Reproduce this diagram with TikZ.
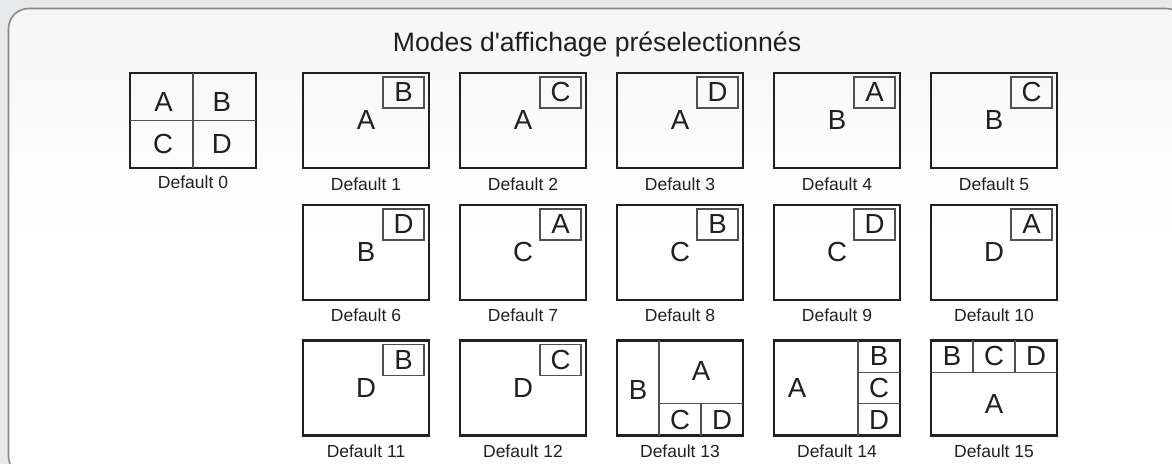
\documentclass[tikz,border=0pt]{standalone}
\usepackage{fontspec}
\setmainfont{Liberation Sans}
\usetikzlibrary{positioning,calc}
\definecolor{bgcolor}{RGB}{232,233,234}
\definecolor{panelcolor}{RGB}{138,138,140}
\definecolor{paneltop}{RGB}{246,246,247}
\definecolor{inkcolor}{RGB}{35,31,32}
\definecolor{insetcolor}{RGB}{80,80,80}

\begin{document}
\begin{tikzpicture}[x=0.5pt,y=-0.5pt,
    screen/.style={rectangle, draw=inkcolor, line width=1.45pt, minimum width=63pt, minimum height=47.5pt, inner sep=0pt, outer sep=0pt, font=\fontsize{13.8}{14}\selectfont, text=inkcolor},
    inset/.style={rectangle, draw=insetcolor, line width=0.55pt, minimum width=20.5pt, minimum height=15.5pt, inner sep=0pt, outer sep=0pt, font=\fontsize{13.8}{14}\selectfont, text=inkcolor},
    part/.style={inner sep=0pt, font=\fontsize{13.8}{14}\selectfont, text=inkcolor},
    split/.style={draw=insetcolor, line width=0.55pt},
    caption/.style={inner sep=0pt, outer sep=0pt, font=\fontsize{8.75}{9}\selectfont, text=inkcolor}]
    \useasboundingbox (0,0) rectangle (1172,464);
    % Bakgrund
    \fill[bgcolor] (0,0) rectangle (1172,464);
    \draw[panelcolor, line width=0.8pt, rounded corners=10pt, top color=paneltop, bottom color=white, middle color=white] (8.5,8.5) rectangle (1186,476);
    \node (title) [anchor=base, font=\fontsize{13.3}{14}\selectfont, text=inkcolor] at (597,52) {Modes d\textquotesingle affichage préselectionnés};

    % Skärmar
    \node (d0) [screen] at (193,120.5) {};
    \node (d1) [screen, right=23.5pt of d0] {A};
    \node (d2) [screen, right=15.5pt of d1] {A};
    \node (d3) [screen, right=15.5pt of d2] {A};
    \node (d4) [screen, right=15.5pt of d3] {B};
    \node (d5) [screen, right=15.5pt of d4] {B};
    \node (d6) [screen, below=18.5pt of d1] {B};
    \node (d7) [screen, right=15.5pt of d6] {C};
    \node (d8) [screen, right=15.5pt of d7] {C};
    \node (d9) [screen, right=15.5pt of d8] {C};
    \node (d10) [screen, right=15.5pt of d9] {D};
    \node (d11) [screen, below=20.25pt of d6] {D};
    \node (d12) [screen, right=15.5pt of d11] {D};
    \node (d13) [screen, right=15.5pt of d12] {};
    \node (d14) [screen, right=15.5pt of d13] {};
    \node (d15) [screen, right=15.5pt of d14] {};

    % Småbilder
    \node (i1) [inset, anchor=north east] at ([xshift=-2.5pt,yshift=-2pt]d1.north east) {B};
    \node (i2) [inset, anchor=north east] at ([xshift=-2.5pt,yshift=-2pt]d2.north east) {C};
    \node (i3) [inset, anchor=north east] at ([xshift=-2.5pt,yshift=-2pt]d3.north east) {D};
    \node (i4) [inset, anchor=north east] at ([xshift=-2.5pt,yshift=-2pt]d4.north east) {A};
    \node (i5) [inset, anchor=north east] at ([xshift=-2.5pt,yshift=-2pt]d5.north east) {C};
    \node (i6) [inset, anchor=north east] at ([xshift=-2.5pt,yshift=-2pt]d6.north east) {D};
    \node (i7) [inset, anchor=north east] at ([xshift=-2.5pt,yshift=-2pt]d7.north east) {A};
    \node (i8) [inset, anchor=north east] at ([xshift=-2.5pt,yshift=-2pt]d8.north east) {B};
    \node (i9) [inset, anchor=north east] at ([xshift=-2.5pt,yshift=-2pt]d9.north east) {D};
    \node (i10) [inset, anchor=north east] at ([xshift=-2.5pt,yshift=-2pt]d10.north east) {A};
    \node (i11) [inset, anchor=north east] at ([xshift=-2.5pt,yshift=-2pt]d11.north east) {B};
    \node (i12) [inset, anchor=north east] at ([xshift=-2.5pt,yshift=-2pt]d12.north east) {C};

    % Uppdelade skärmar
    \draw[split] (d0.north) -- (d0.south);
    \draw[split] (d0.west) -- (d0.east);
    \node (d0a) [part] at ([xshift=-14.75pt,yshift=9.25pt]d0.center) {A};
    \node (d0b) [part] at ([xshift=14.4pt,yshift=9.25pt]d0.center) {B};
    \node (d0c) [part] at ([xshift=-15pt,yshift=-11.75pt]d0.center) {C};
    \node (d0d) [part] at ([xshift=14.4pt,yshift=-11.75pt]d0.center) {D};

    \draw[split] ([xshift=21pt]d13.north west) -- ([xshift=21pt]d13.south west);
    \draw[split] ([xshift=21pt,yshift=15.8pt]d13.south west) -- ([yshift=15.8pt]d13.south east);
    \draw[split] ([xshift=42pt,yshift=15.8pt]d13.south west) -- ([xshift=42pt]d13.south west);
    \node (d13b) [part] at ([xshift=10.5pt,yshift=-1pt]d13.west) {B};
    \node (d13a) [part] at ([xshift=42pt,yshift=-15.5pt]d13.north west) {A};
    \node (d13c) [part] at ([xshift=31.5pt,yshift=7.9pt]d13.south west) {C};
    \node (d13d) [part] at ([xshift=52.5pt,yshift=7.9pt]d13.south west) {D};

    \draw[split] ([xshift=42pt]d14.north west) -- ([xshift=42pt]d14.south west);
    \draw[split] ([xshift=42pt,yshift=-15.8pt]d14.north west) -- ([yshift=-15.8pt]d14.north east);
    \draw[split] ([xshift=42pt,yshift=15.8pt]d14.south west) -- ([yshift=15.8pt]d14.south east);
    \node (d14a) [part] at ([xshift=-20pt]d14.center) {A};
    \node (d14b) [part] at ([xshift=-10.5pt,yshift=-7.9pt]d14.north east) {B};
    \node (d14c) [part] at ([xshift=-10.5pt]d14.east) {C};
    \node (d14d) [part] at ([xshift=-10.5pt,yshift=7.9pt]d14.south east) {D};

    \draw[split] ([yshift=-15.8pt]d15.north west) -- ([yshift=-15.8pt]d15.north east);
    \draw[split] ([xshift=21pt]d15.north west) -- ([xshift=21pt,yshift=-15.8pt]d15.north west);
    \draw[split] ([xshift=42pt]d15.north west) -- ([xshift=42pt,yshift=-15.8pt]d15.north west);
    \node (d15b) [part] at ([xshift=10.5pt,yshift=-7.9pt]d15.north west) {B};
    \node (d15c) [part] at ([xshift=31.5pt,yshift=-7.9pt]d15.north west) {C};
    \node (d15d) [part] at ([xshift=52.5pt,yshift=-7.9pt]d15.north west) {D};
    \node (d15a) [part] at ([yshift=15.8pt]d15.south) {A};

    % Etiketter
    \node (c0) [caption, below=4pt of d0] {Default 0};
    \node (c1) [caption, below=5pt of d1] {Default 1};
    \node (c2) [caption, below=5pt of d2] {Default 2};
    \node (c3) [caption, below=5pt of d3] {Default 3};
    \node (c4) [caption, below=5pt of d4] {Default 4};
    \node (c5) [caption, below=5pt of d5] {Default 5};
    \node (c6) [caption, below=4.5pt of d6] {Default 6};
    \node (c7) [caption, below=4.5pt of d7] {Default 7};
    \node (c8) [caption, below=4.5pt of d8] {Default 8};
    \node (c9) [caption, below=4.5pt of d9] {Default 9};
    \node (c10) [caption, below=4.5pt of d10] {Default 10};
    \node (c11) [caption, below=4.5pt of d11] {Default 11};
    \node (c12) [caption, below=4.5pt of d12] {Default 12};
    \node (c13) [caption, below=4.5pt of d13] {Default 13};
    \node (c14) [caption, below=4.5pt of d14] {Default 14};
    \node (c15) [caption, below=4.5pt of d15] {Default 15};
\end{tikzpicture}
\end{document}
